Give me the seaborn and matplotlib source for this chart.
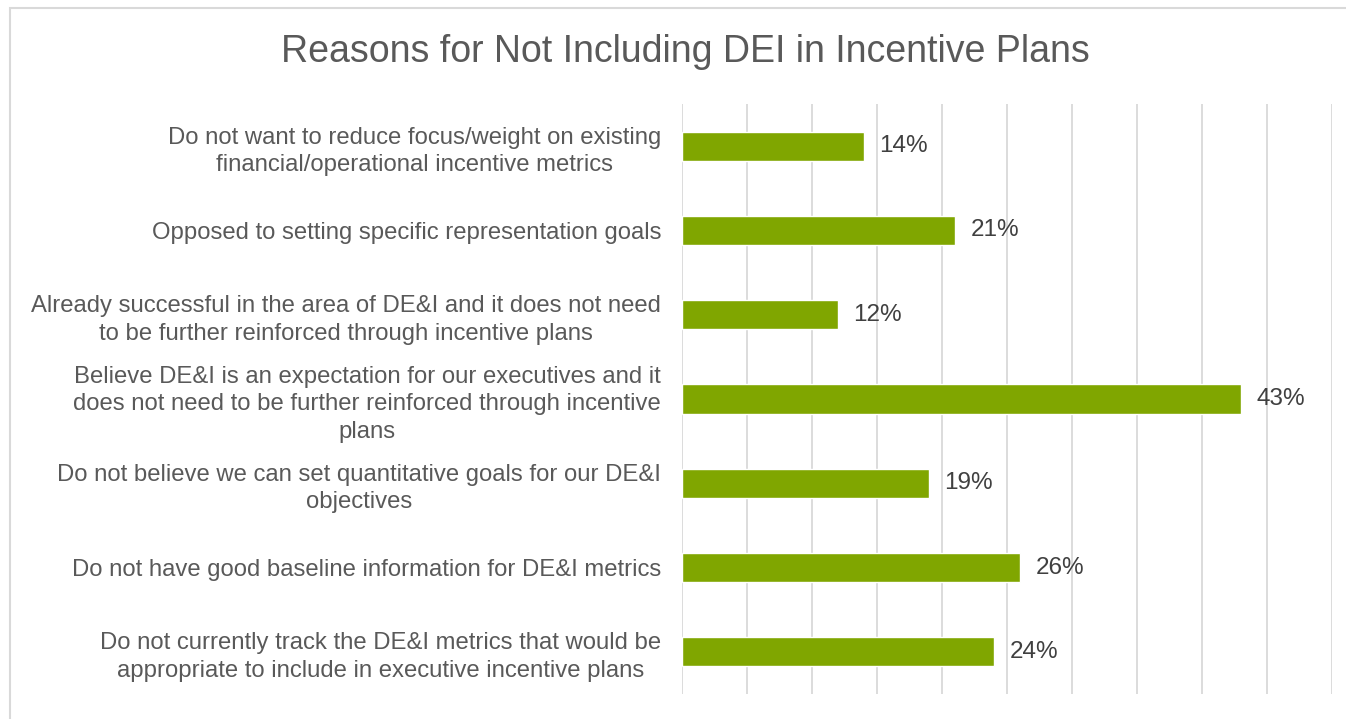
"""
Horizontal bar chart: reasons for not including DEI in incentive plans
"""

import matplotlib
matplotlib.use("Agg")
import matplotlib.pyplot as plt
from matplotlib.patches import Rectangle
from matplotlib.ticker import MultipleLocator
import seaborn as sns
import pandas as pd

# data
reasons = [
    "Do not want to reduce focus/weight on existing\nfinancial/operational incentive metrics",
    "Opposed to setting specific representation goals",
    "Already successful in the area of DE&I and it does not need\nto be further reinforced through incentive plans",
    "Believe DE&I is an expectation for our executives and it\ndoes not need to be further reinforced through incentive\nplans",
    "Do not believe we can set quantitative goals for our DE&I\nobjectives",
    "Do not have good baseline information for DE&I metrics",
    "Do not currently track the DE&I metrics that would be\nappropriate to include in executive incentive plans",
]
shares = [0.14, 0.21, 0.12, 0.43, 0.19, 0.26, 0.24]

title = "Reasons for Not Including DEI in Incentive Plans"

bar_color = "#80A600"
text_gray = "#595959"
grid_gray = "#D9D9D9"

sns.set_style("white")
plt.rcParams["font.family"] = ["Liberation Sans", "DejaVu Sans"]

df = pd.DataFrame({"Reason": reasons, "Share": shares})

fig = plt.figure(figsize=(13.46, 7.19), dpi=100)
ax = fig.add_axes([682 / 1346, 1 - 694 / 719, 650 / 1346, 590 / 719])

sns.barplot(data=df, x="Share", y="Reason", orient="h", color=bar_color,
            width=0.345, saturation=1, ax=ax, zorder=3)

ax.set_xlim(0, 0.5)
ax.xaxis.set_major_locator(MultipleLocator(0.05))
ax.grid(axis="x", color=grid_gray, linewidth=1.3, zorder=0)
ax.grid(axis="y", visible=False)
ax.tick_params(axis="x", length=0, labelbottom=False)
ax.tick_params(axis="y", length=0, pad=15, labelsize=17.2, labelcolor=text_gray)
for lbl in ax.get_yticklabels():
    lbl.set_multialignment("center")
    lbl.set_linespacing(1.32)
for s in ax.spines.values():
    s.set_visible(False)
ax.set_xlabel("")
ax.set_ylabel("")

# value labels
for i, v in enumerate(shares):
    ax.annotate(f"{v:.0%}", (v, i), xytext=(11, 0), textcoords="offset points",
                va="center", ha="left", fontsize=17.5, color="#404040")

fig.text(0.509, 0.9275, title, ha="center", va="center", fontsize=27, color=text_gray)

# chart frame (only left and top edges fall inside the picture)
fig.patches.append(Rectangle((10 / 1346, -0.1), 1.2, 1 - 8 / 719 + 0.1,
                             transform=fig.transFigure, fill=False,
                             edgecolor=grid_gray, linewidth=1.5))

fig.savefig("out.png", dpi=100)
